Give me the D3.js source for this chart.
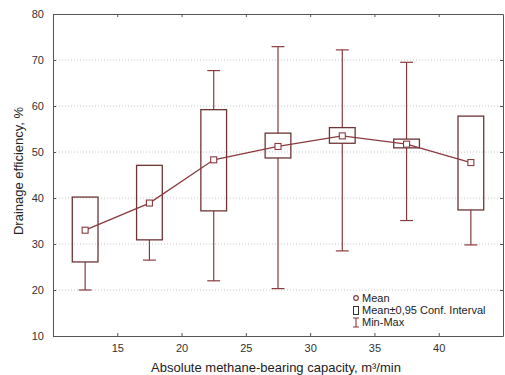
<!DOCTYPE html>
<html>
<head>
<meta charset="utf-8">
<script src="https://cdn.jsdelivr.net/npm/d3@7"></script>
<style>
  html, body { margin: 0; padding: 0; background: #fff; }
  svg { display: block; }
  text { font-family: "Liberation Sans", Arial, sans-serif; }
</style>
</head>
<body>
<svg id="chart" width="505" height="375"></svg>
<script>
// Capacity class centres (m³/min)
const categories = [12.5, 17.5, 22.5, 27.5, 32.5, 37.5, 42.5];
// Drainage efficiency statistics, %
const means   = [33.0, 38.9, 48.3, 51.2, 53.5, 51.7, 47.7];
const ciLow   = [26.1, 30.9, 37.2, 48.7, 51.9, 50.9, 37.4];
const ciHigh  = [40.2, 47.1, 59.2, 54.1, 55.3, 52.8, 57.8];
const minVals = [20.0, 26.5, 22.0, 20.3, 28.5, 35.1, 29.8];
const maxVals = [40.2, 47.1, 67.7, 72.9, 72.2, 69.5, 57.8];
const xTicks = [15, 20, 25, 30, 35, 40];
const yTicks = [10, 20, 30, 40, 50, 60, 70, 80];
const legendItems = ["Mean", "Mean\u00b10,95 Conf. Interval", "Min-Max"];

const svg = d3.select("#chart");
const m = { left: 53, right: 2, top: 14, bottom: 39 };
const W = 505, H = 375;
const x = d3.scaleLinear().domain([10, 45]).range([m.left, W - m.right]);
const y = d3.scaleLinear().domain([10, 80]).range([H - m.bottom, m.top]);
const color = "#8a3a3f";
const boxW = 2;   // box width in x units
const capW = 1;   // whisker cap width in x units

const data = categories.map((c, i) => ({
  c, mean: means[i], lo: ciLow[i], hi: ciHigh[i], min: minVals[i], max: maxVals[i]
}));

// dotted horizontal grid
svg.append("g").selectAll("line").data(yTicks.filter(t => t > 10 && t < 80)).join("line")
  .attr("x1", x(10)).attr("x2", x(45))
  .attr("y1", d => y(d)).attr("y2", d => y(d))
  .attr("stroke", "#c8c8c8").attr("stroke-width", 1).attr("stroke-dasharray", "1,2");

// axes with inward ticks
const axisColor = "#555";
const gx = svg.append("g").attr("transform", `translate(0,${y(10)})`)
  .call(d3.axisBottom(x).tickValues(xTicks).tickSizeInner(-3).tickSizeOuter(0).tickPadding(8));
const gxt = svg.append("g").attr("transform", `translate(0,${y(80)})`)
  .call(d3.axisTop(x).tickValues(xTicks).tickSizeInner(-3).tickSizeOuter(0).tickFormat(""));
const gy = svg.append("g").attr("transform", `translate(${x(10)},0)`)
  .call(d3.axisLeft(y).tickValues(yTicks).tickSizeInner(-3).tickSizeOuter(0).tickPadding(9));
const gyr = svg.append("g").attr("transform", `translate(${x(45)},0)`)
  .call(d3.axisRight(y).tickValues(yTicks).tickSizeInner(-3).tickSizeOuter(0).tickFormat(""));
[gx, gxt, gy, gyr].forEach(g => {
  g.select(".domain").attr("stroke", axisColor);
  g.selectAll(".tick line").attr("stroke", axisColor);
  g.selectAll("text").attr("fill", "#333").style("font-size", "11px");
});

// whiskers (min-max)
const wg = svg.append("g").attr("stroke", color).attr("stroke-width", 1.2).attr("fill", "none");
wg.selectAll(".lw").data(data).join("line")
  .attr("x1", d => x(d.c)).attr("x2", d => x(d.c))
  .attr("y1", d => y(d.min)).attr("y2", d => y(d.lo));
wg.selectAll(".uw").data(data.filter(d => d.max > d.hi)).join("line")
  .attr("x1", d => x(d.c)).attr("x2", d => x(d.c))
  .attr("y1", d => y(d.max)).attr("y2", d => y(d.hi));
wg.selectAll(".capmin").data(data).join("line")
  .attr("x1", d => x(d.c - capW / 2)).attr("x2", d => x(d.c + capW / 2))
  .attr("y1", d => y(d.min)).attr("y2", d => y(d.min));
wg.selectAll(".capmax").data(data.filter(d => d.max > d.hi)).join("line")
  .attr("x1", d => x(d.c - capW / 2)).attr("x2", d => x(d.c + capW / 2))
  .attr("y1", d => y(d.max)).attr("y2", d => y(d.max));

// confidence-interval boxes
svg.append("g").selectAll("rect").data(data).join("rect")
  .attr("x", d => x(d.c - boxW / 2)).attr("width", d => x(d.c + boxW / 2) - x(d.c - boxW / 2))
  .attr("y", d => y(d.hi)).attr("height", d => y(d.lo) - y(d.hi))
  .attr("fill", "none").attr("stroke", "#6e3436").attr("stroke-width", 1.3);

// mean line and markers
const line = d3.line().x(d => x(d.c)).y(d => y(d.mean));
svg.append("path").datum(data).attr("d", line)
  .attr("fill", "none").attr("stroke", color).attr("stroke-width", 1.3);
svg.append("g").selectAll("rect").data(data).join("rect")
  .attr("x", d => x(d.c) - 3).attr("y", d => y(d.mean) - 3)
  .attr("width", 6).attr("height", 6)
  .attr("fill", "#fff").attr("stroke", color).attr("stroke-width", 1.1);

// legend
const lg = svg.append("g").attr("transform", "translate(356,0)");
const rowY = [298, 310.5, 322.5];
lg.append("circle").attr("cx", 0).attr("cy", rowY[0]).attr("r", 2.3)
  .attr("fill", "#fff").attr("stroke", color).attr("stroke-width", 1.2);
lg.append("rect").attr("x", -2.5).attr("y", rowY[1] - 4).attr("width", 5).attr("height", 8)
  .attr("fill", "none").attr("stroke", "#333").attr("stroke-width", 1);
lg.append("path")
  .attr("d", `M-3,${rowY[2] - 4.5}H3M0,${rowY[2] - 4.5}V${rowY[2] + 4.5}M-3,${rowY[2] + 4.5}H3`)
  .attr("stroke", color).attr("stroke-width", 1.1).attr("fill", "none");
lg.selectAll("text").data(legendItems).join("text")
  .attr("x", 6).attr("y", (d, i) => rowY[i]).attr("dy", "0.36em")
  .attr("fill", "#222").style("font-size", "11px").text(d => d);

// axis titles
svg.append("text").attr("x", (x(10) + x(45)) / 2 - 2).attr("y", 367).attr("dy", "0.36em")
  .attr("text-anchor", "middle").attr("fill", "#222").style("font-size", "13px")
  .text("Absolute methane-bearing capacity, m\u00b3/min");
svg.append("text").attr("transform", `translate(18,${171}) rotate(-90)`).attr("dy", "0.36em")
  .attr("text-anchor", "middle").attr("fill", "#222").style("font-size", "13px")
  .text("Drainage efficiency, %");
</script>
</body>
</html>
